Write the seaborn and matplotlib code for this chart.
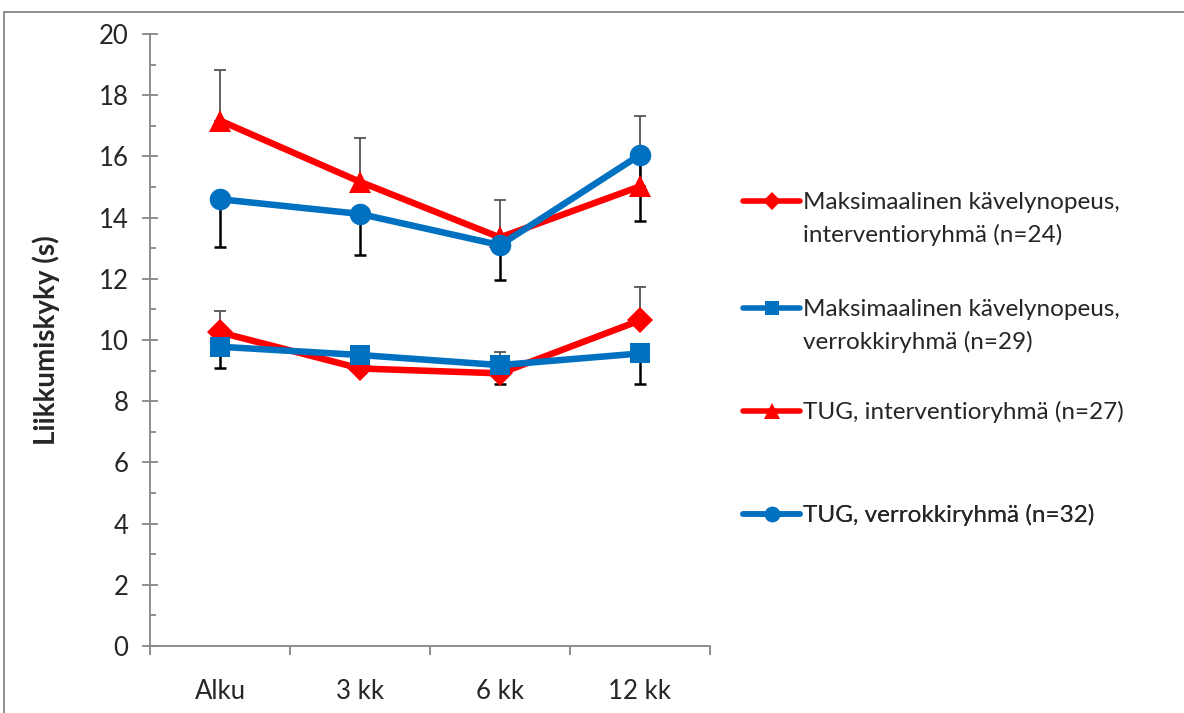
import matplotlib
matplotlib.use("Agg")
import matplotlib.pyplot as plt
from matplotlib.lines import Line2D
from matplotlib.patches import Rectangle
from matplotlib.ticker import MultipleLocator, FixedLocator, NullFormatter
import numpy as np
import pandas as pd
import seaborn as sns

# Measurement points
time_labels = ["Alku", "3 kk", "6 kk", "12 kk"]

# Maximal walking speed (s), intervention group, with upper error
walk_int = [10.25, 9.07, 8.91, 10.64]
walk_int_err = [0.71, 0.40, 0.69, 1.10]

# Maximal walking speed (s), control group, with lower error
walk_ctrl = [9.78, 9.51, 9.18, 9.56]
walk_ctrl_err = [0.71, 0.58, 0.62, 1.00]

# Timed up and go (s), intervention group, with upper error
tug_int = [17.17, 15.17, 13.35, 15.02]
tug_int_err = [1.65, 1.44, 1.22, 2.31]

# Timed up and go (s), control group, with lower error
tug_ctrl = [14.60, 14.12, 13.10, 16.05]
tug_ctrl_err = [1.55, 1.34, 1.14, 2.15]

series_labels = [
    "Maksimaalinen kävelynopeus,\ninterventioryhmä (n=24)",
    "Maksimaalinen kävelynopeus,\nverrokkiryhmä (n=29)",
    "TUG, interventioryhmä (n=27)",
    "TUG, verrokkiryhmä (n=32)",
]

RED = "#FF0000"
BLUE = "#0070C0"
AXIS_GREY = "#868686"

sns.set_style("ticks")
plt.rcParams["font.family"] = ["Lato", "DejaVu Sans"]

W, H = 1184, 713
fig = plt.figure(figsize=(W / 100, H / 100), dpi=100)
ax = fig.add_axes([150 / W, 1 - 646 / H, 560 / W, 612 / H])

x = np.arange(len(time_labels))

series = [
    (walk_int, walk_int_err, "upper", RED, "D", 13.0, series_labels[0]),
    (walk_ctrl, walk_ctrl_err, "lower", BLUE, "s", 14.0, series_labels[1]),
    (tug_int, tug_int_err, "upper", RED, "^", 15.5, series_labels[2]),
    (tug_ctrl, tug_ctrl_err, "lower", BLUE, "o", 15.5, series_labels[3]),
]

# one-sided error bars behind the lines
for vals, errs, side, color, marker, ms, label in series:
    errs = np.asarray(errs)
    zeros = np.zeros_like(errs)
    if side == "upper":
        yerr = [zeros, errs]
        ecol, elw = "#555555", 1.3
    else:
        yerr = [errs, zeros]
        ecol, elw = "black", 1.8
    ax.errorbar(x, vals, yerr=yerr, fmt="none", ecolor=ecol, elinewidth=elw,
                capsize=4.3, capthick=elw, zorder=2)

for i, (vals, errs, side, color, marker, ms, label) in enumerate(series):
    df = pd.DataFrame({"pos": x, "value": vals})
    sns.lineplot(data=df, x="pos", y="value", ax=ax, color=color, lw=4.7,
                 marker=marker, markersize=ms, markeredgewidth=0,
                 markeredgecolor=color, legend=False, zorder=3 + i,
                 solid_capstyle="round")

# axes styling
ax.set_xlim(-0.5, len(time_labels) - 0.5)
ax.set_ylim(0, 20)
for side in ("top", "right"):
    ax.spines[side].set_visible(False)
for side in ("left", "bottom"):
    ax.spines[side].set_color(AXIS_GREY)
    ax.spines[side].set_linewidth(1.3)

TICK_FS = 18.5
LEG_FS = 17.5

ax.yaxis.set_major_locator(MultipleLocator(2))
ax.yaxis.set_minor_locator(MultipleLocator(1))
ax.tick_params(axis="y", which="major", direction="inout", length=11,
               width=1.3, color=AXIS_GREY, labelsize=TICK_FS, pad=10)
ax.tick_params(axis="y", which="minor", direction="in", length=4.5,
               width=1.3, color=AXIS_GREY)

# category boundaries carry the ticks, category centres carry the labels
ax.xaxis.set_major_locator(FixedLocator(np.arange(len(time_labels) + 1) - 0.5))
ax.xaxis.set_major_formatter(NullFormatter())
ax.xaxis.set_minor_locator(FixedLocator(x))
ax.set_xticklabels(time_labels, minor=True)
ax.tick_params(axis="x", which="major", direction="out", length=6.5,
               width=1.3, color=AXIS_GREY)
ax.tick_params(axis="x", which="minor", length=0, labelsize=TICK_FS, pad=24)

ax.set_xlabel("")
ax.set_ylabel("Liikkumiskyky (s)", fontsize=20, fontweight="bold")
ax.yaxis.set_label_coords(-0.16, 0.5)

# legend: one block per series, handle beside the first text line
legend_tops = [192, 299, 401, 504]
for (vals, errs, side, color, marker, ms, label), top in zip(series, legend_tops):
    handle = Line2D([], [], color=color, lw=4.0, marker=marker,
                    markersize=ms * 0.72, markeredgewidth=0,
                    solid_capstyle="round")
    lines = label.split("\n")
    handles = [handle] + [Line2D([], [], lw=0, alpha=0)] * (len(lines) - 1)
    leg = ax.legend(handles, lines, loc="upper left",
                    bbox_to_anchor=(743 / W, 1 - top / H),
                    bbox_transform=fig.transFigure, frameon=False,
                    fontsize=LEG_FS, borderpad=0, borderaxespad=0,
                    handlelength=57 / (LEG_FS / 0.72), handletextpad=0.12,
                    labelspacing=0.43)
    ax.add_artist(leg)

# outer chart frame
fig.add_artist(Rectangle((4 / W, -0.1), 1.2, 1 - 12 / H + 0.1,
                         transform=fig.transFigure, fill=False,
                         edgecolor=AXIS_GREY, lw=1.3))

fig.savefig("out.png", dpi=100)
